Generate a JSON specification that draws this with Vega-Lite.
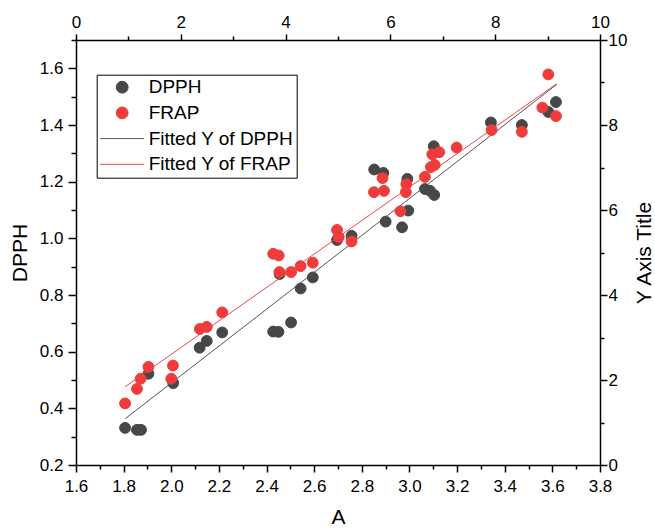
{
  "$schema": "https://vega.github.io/schema/vega-lite/v6.json",
  "width": 524,
  "height": 425,
  "autosize": "none",
  "padding": {"left": 76, "top": 40, "right": 55, "bottom": 64},
  "background": "white",
  "config": {
    "view": {"stroke": null},
    "axis": {
      "domainColor": "#000", "tickColor": "#000", "labelColor": "#000", "titleColor": "#000",
      "labelFont": "Liberation Sans", "titleFont": "Liberation Sans",
      "labelFontSize": 17, "titleFontSize": 21, "titleFontWeight": "normal",
      "grid": false, "labelFlush": false, "labelOverlap": false,
      "domainWidth": 1.5, "tickWidth": 1.5
    }
  },
  "datasets": {
    "dpph": [
      {"A": 1.806, "DPPH": 0.331, "series": "DPPH"},
      {"A": 1.856, "DPPH": 0.324, "series": "DPPH"},
      {"A": 1.873, "DPPH": 0.324, "series": "DPPH"},
      {"A": 1.904, "DPPH": 0.522, "series": "DPPH"},
      {"A": 2.008, "DPPH": 0.489, "series": "DPPH"},
      {"A": 2.119, "DPPH": 0.614, "series": "DPPH"},
      {"A": 2.149, "DPPH": 0.638, "series": "DPPH"},
      {"A": 2.214, "DPPH": 0.668, "series": "DPPH"},
      {"A": 2.428, "DPPH": 0.671, "series": "DPPH"},
      {"A": 2.450, "DPPH": 0.670, "series": "DPPH"},
      {"A": 2.455, "DPPH": 0.874, "series": "DPPH"},
      {"A": 2.503, "DPPH": 0.703, "series": "DPPH"},
      {"A": 2.543, "DPPH": 0.823, "series": "DPPH"},
      {"A": 2.594, "DPPH": 0.862, "series": "DPPH"},
      {"A": 2.696, "DPPH": 0.994, "series": "DPPH"},
      {"A": 2.757, "DPPH": 1.009, "series": "DPPH"},
      {"A": 2.852, "DPPH": 1.243, "series": "DPPH"},
      {"A": 2.890, "DPPH": 1.231, "series": "DPPH"},
      {"A": 2.900, "DPPH": 1.059, "series": "DPPH"},
      {"A": 2.969, "DPPH": 1.039, "series": "DPPH"},
      {"A": 2.991, "DPPH": 1.210, "series": "DPPH"},
      {"A": 2.995, "DPPH": 1.098, "series": "DPPH"},
      {"A": 3.065, "DPPH": 1.174, "series": "DPPH"},
      {"A": 3.086, "DPPH": 1.168, "series": "DPPH"},
      {"A": 3.104, "DPPH": 1.153, "series": "DPPH"},
      {"A": 3.102, "DPPH": 1.325, "series": "DPPH"},
      {"A": 3.342, "DPPH": 1.409, "series": "DPPH"},
      {"A": 3.472, "DPPH": 1.400, "series": "DPPH"},
      {"A": 3.583, "DPPH": 1.446, "series": "DPPH"},
      {"A": 3.615, "DPPH": 1.481, "series": "DPPH"}
    ],
    "frap": [
      {"A": 1.806, "FRAP": 1.45, "series": "FRAP"},
      {"A": 1.856, "FRAP": 1.79, "series": "FRAP"},
      {"A": 1.871, "FRAP": 2.03, "series": "FRAP"},
      {"A": 1.904, "FRAP": 2.31, "series": "FRAP"},
      {"A": 2.000, "FRAP": 2.03, "series": "FRAP"},
      {"A": 2.007, "FRAP": 2.34, "series": "FRAP"},
      {"A": 2.120, "FRAP": 3.20, "series": "FRAP"},
      {"A": 2.149, "FRAP": 3.25, "series": "FRAP"},
      {"A": 2.214, "FRAP": 3.59, "series": "FRAP"},
      {"A": 2.428, "FRAP": 4.97, "series": "FRAP"},
      {"A": 2.451, "FRAP": 4.93, "series": "FRAP"},
      {"A": 2.454, "FRAP": 4.54, "series": "FRAP"},
      {"A": 2.503, "FRAP": 4.54, "series": "FRAP"},
      {"A": 2.543, "FRAP": 4.68, "series": "FRAP"},
      {"A": 2.594, "FRAP": 4.76, "series": "FRAP"},
      {"A": 2.696, "FRAP": 5.53, "series": "FRAP"},
      {"A": 2.703, "FRAP": 5.36, "series": "FRAP"},
      {"A": 2.757, "FRAP": 5.26, "series": "FRAP"},
      {"A": 2.851, "FRAP": 6.42, "series": "FRAP"},
      {"A": 2.887, "FRAP": 6.75, "series": "FRAP"},
      {"A": 2.893, "FRAP": 6.45, "series": "FRAP"},
      {"A": 2.962, "FRAP": 5.97, "series": "FRAP"},
      {"A": 2.987, "FRAP": 6.61, "series": "FRAP"},
      {"A": 2.985, "FRAP": 6.42, "series": "FRAP"},
      {"A": 3.065, "FRAP": 6.78, "series": "FRAP"},
      {"A": 3.090, "FRAP": 7.01, "series": "FRAP"},
      {"A": 3.106, "FRAP": 7.06, "series": "FRAP"},
      {"A": 3.096, "FRAP": 7.31, "series": "FRAP"},
      {"A": 3.125, "FRAP": 7.36, "series": "FRAP"},
      {"A": 3.198, "FRAP": 7.47, "series": "FRAP"},
      {"A": 3.345, "FRAP": 7.88, "series": "FRAP"},
      {"A": 3.472, "FRAP": 7.84, "series": "FRAP"},
      {"A": 3.558, "FRAP": 8.41, "series": "FRAP"},
      {"A": 3.583, "FRAP": 9.19, "series": "FRAP"},
      {"A": 3.615, "FRAP": 8.21, "series": "FRAP"}
    ],
    "fitd": [
      {"A": 1.806, "DPPH": 0.363, "series": "Fitted Y of DPPH"},
      {"A": 3.618, "DPPH": 1.543, "series": "Fitted Y of DPPH"}
    ],
    "fitf": [
      {"A": 1.806, "FRAP": 1.84, "series": "Fitted Y of FRAP"},
      {"A": 3.618, "FRAP": 8.97, "series": "Fitted Y of FRAP"}
    ],
    "dummy": [{"t": 0, "u": 0}, {"t": 10, "u": 10}]
  },
  "layer": [
    {
      "encoding": {
        "x": {
          "field": "A", "type": "quantitative",
          "scale": {"domain": [1.6, 3.8], "nice": false, "zero": false},
          "axis": {
            "orient": "bottom", "title": "A",
            "values": [1.6,1.8,2.0,2.2,2.4,2.6,2.8,3.0,3.2,3.4,3.6,3.8],
            "format": ".1f", "tickSize": 7,
            "labelPadding": 6, "titlePadding": 12
          }
        },
        "y": {
          "field": "DPPH", "type": "quantitative",
          "scale": {"domain": [0.2, 1.7], "nice": false, "zero": false},
          "axis": {
            "orient": "left", "title": "DPPH",
            "values": [0.2,0.4,0.6,0.8,1.0,1.2,1.4,1.6],
            "format": ".1f", "tickSize": 8,
            "labelPadding": 5, "titlePadding": 9
          }
        }
      },
      "layer": [
        {
          "data": {"name": "dpph"},
          "mark": {"type": "point", "filled": true, "opacity": 1, "strokeWidth": 1, "size": 118},
          "encoding": {
            "fill": {
              "field": "series", "type": "nominal",
              "scale": {"type": "ordinal", "domain": ["DPPH", "FRAP", "Fitted Y of DPPH", "Fitted Y of FRAP"], "range": ["#474747", "#EF3B3B", "transparent", "transparent"]},
              "legend": {
                "orient": "none", "legendX": 20.7, "legendY": 34.7, "title": null,
                "labelFont": "Liberation Sans", "labelFontSize": 19, "labelColor": "#000",
                "strokeColor": "#000", "fillColor": "white",
                "padding": 3, "rowPadding": 5.7, "clipHeight": 19, "labelOffset": 4, "symbolStrokeWidth": 1, "symbolOpacity": 1,
                "encode": {
                  "symbols": {
                    "update": {
                      "size": {"signal": "(indexof(isString(datum) ? datum : datum.value, 'Fitted') >= 0 ? 1936 : 140)"}
                    }
                  }
                }
              }
            },
            "stroke": {
              "field": "series", "type": "nominal",
              "scale": {"type": "ordinal", "domain": ["DPPH", "FRAP", "Fitted Y of DPPH", "Fitted Y of FRAP"], "range": ["#474747", "#EF3B3B", "#555555", "#F04545"]}
            },
            "shape": {
              "field": "series", "type": "nominal",
              "scale": {"type": "ordinal", "domain": ["DPPH", "FRAP", "Fitted Y of DPPH", "Fitted Y of FRAP"], "range": ["circle", "circle", "stroke", "stroke"]}
            }
          }
        },
        {
          "data": {"name": "fitd"},
          "mark": {"type": "line", "strokeWidth": 1},
          "encoding": {"stroke": {"field": "series", "type": "nominal"}}
        }
      ]
    },
    {
      "encoding": {
        "x": {
          "field": "A", "type": "quantitative",
          "scale": {"domain": [1.6, 3.8], "nice": false, "zero": false},
          "axis": null
        },
        "y": {
          "field": "FRAP", "type": "quantitative",
          "scale": {"domain": [0, 10], "nice": false, "zero": false},
          "axis": {
            "orient": "right", "title": "Y Axis Title", "titleAngle": 270, "titleFontSize": 21,
            "values": [0,2,4,6,8,10],
            "format": "d", "tickSize": 7,
            "labelPadding": 1, "titlePadding": 28
          }
        }
      },
      "layer": [
        {
          "data": {"name": "frap"},
          "mark": {"type": "point", "filled": true, "opacity": 1, "strokeWidth": 1, "size": 118},
          "encoding": {
            "fill": {"field": "series", "type": "nominal"},
            "stroke": {"field": "series", "type": "nominal"},
            "shape": {"field": "series", "type": "nominal"}
          }
        },
        {
          "data": {"name": "fitf"},
          "mark": {"type": "line", "strokeWidth": 1},
          "encoding": {"stroke": {"field": "series", "type": "nominal"}}
        }
      ]
    },
    {
      "data": {"name": "dummy"},
      "mark": {"type": "point", "opacity": 0},
      "encoding": {
        "x": {
          "field": "t", "type": "quantitative",
          "scale": {"domain": [0, 10], "nice": false, "zero": false},
          "axis": {
            "orient": "top", "title": null,
            "values": [0,2,4,6,8,10], "format": "d",
            "tickSize": 6, "labelPadding": 3
          }
        },
        "y": {
          "field": "u", "type": "quantitative",
          "scale": {"domain": [0, 10], "nice": false, "zero": false},
          "axis": {
            "orient": "right", "title": null, "labels": false, "domain": false,
            "values": [1,3,5,7,9], "tickSize": 4
          }
        }
      }
    },
    {
      "data": {"name": "dummy"},
      "mark": {"type": "point", "opacity": 0},
      "encoding": {
        "x": {
          "field": "t", "type": "quantitative",
          "scale": {"domain": [0, 10], "nice": false, "zero": false},
          "axis": {
            "orient": "top", "title": null, "labels": false, "domain": false,
            "values": [1,3,5,7,9], "tickSize": 4
          }
        }
      }
    },
    {
      "data": {"name": "dummy"},
      "mark": {"type": "point", "opacity": 0},
      "encoding": {
        "x": {
          "field": "t", "type": "quantitative",
          "scale": {"domain": [1.6, 3.8], "nice": false, "zero": false},
          "axis": {
            "orient": "bottom", "title": null, "labels": false, "domain": false,
            "values": [1.7,1.9,2.1,2.3,2.5,2.7,2.9,3.1,3.3,3.5,3.7], "tickSize": 4
          }
        },
        "y": {
          "field": "u", "type": "quantitative",
          "scale": {"domain": [0.2, 1.7], "nice": false, "zero": false},
          "axis": {
            "orient": "left", "title": null, "labels": false, "domain": false,
            "values": [0.3,0.5,0.7,0.9,1.1,1.3,1.5,1.7], "tickSize": 5
          }
        }
      }
    }
  ],
  "resolve": {"scale": {"x": "independent", "y": "independent"}}
}
